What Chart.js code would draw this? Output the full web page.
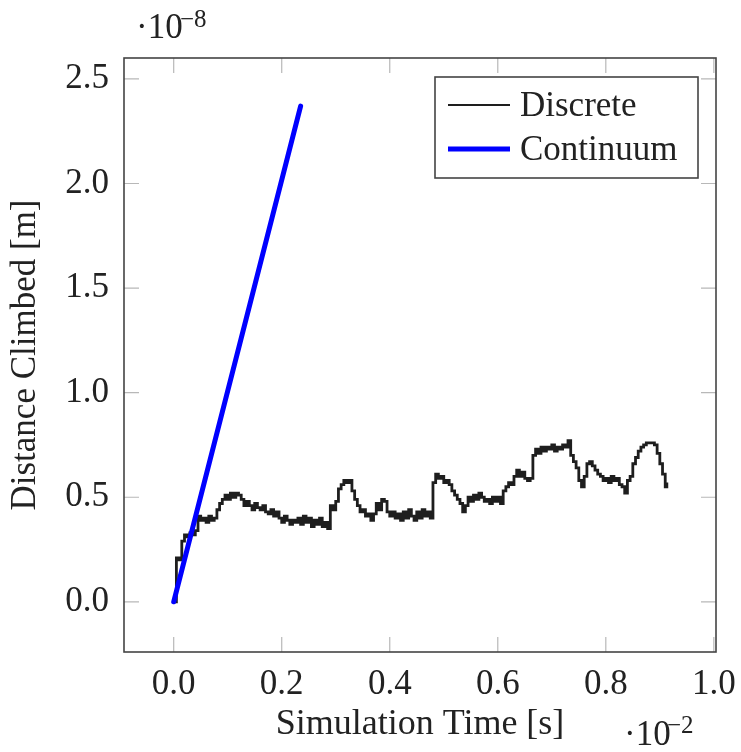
<!DOCTYPE html>
<html>
<head>
    <title>Distance climbed</title>
    <script src="https://cdn.jsdelivr.net/npm/chart.js@4"></script>
</head>

<style>
    body {
        margin: 0;
        background: #ffffff;
    }
</style>

<body>
    <canvas id="myChart" width="741" height="752"></canvas>

    <script>

// données (temps en 1e-2 s, distance en 1e-8 m)
    const discreteTime = [
        0.000,0.005,0.010,0.015,0.020,0.025,0.030,0.035,0.040,0.045,
        0.050,0.055,0.060,0.065,0.070,0.075,0.080,0.085,0.090,0.095,
        0.100,0.105,0.110,0.115,0.120,0.125,0.130,0.135,0.140,0.145,
        0.150,0.155,0.160,0.165,0.170,0.175,0.180,0.185,0.190,0.195,
        0.200,0.205,0.210,0.215,0.220,0.225,0.230,0.235,0.240,0.245,
        0.250,0.255,0.260,0.265,0.270,0.275,0.280,0.285,0.290,0.295,
        0.300,0.305,0.310,0.315,0.320,0.325,0.330,0.335,0.340,0.345,
        0.350,0.355,0.360,0.365,0.370,0.375,0.380,0.385,0.390,0.395,
        0.400,0.405,0.410,0.415,0.420,0.425,0.430,0.435,0.440,0.445,
        0.450,0.455,0.460,0.465,0.470,0.475,0.480,0.485,0.490,0.495,
        0.500,0.505,0.510,0.515,0.520,0.525,0.530,0.535,0.540,0.545,
        0.550,0.555,0.560,0.565,0.570,0.575,0.580,0.585,0.590,0.595,
        0.600,0.605,0.610,0.615,0.620,0.625,0.630,0.635,0.640,0.645,
        0.650,0.655,0.660,0.665,0.670,0.675,0.680,0.685,0.690,0.695,
        0.700,0.705,0.710,0.715,0.720,0.725,0.730,0.735,0.740,0.745,
        0.750,0.755,0.760,0.765,0.770,0.775,0.780,0.785,0.790,0.795,
        0.800,0.805,0.810,0.815,0.820,0.825,0.830,0.835,0.840,0.845,
        0.850,0.855,0.860,0.865,0.870,0.875,0.880,0.885,0.890,0.895,
        0.900,0.905,0.910,0.913
    ];
    const discreteDistance = [
        0.00,0.21,0.20,0.29,0.32,0.31,0.33,0.32,0.34,0.41,
        0.39,0.40,0.38,0.41,0.39,0.40,0.44,0.47,0.49,0.51,
        0.49,0.52,0.50,0.52,0.51,0.49,0.46,0.48,0.46,0.44,
        0.47,0.45,0.44,0.46,0.43,0.42,0.44,0.41,0.43,0.40,
        0.38,0.41,0.39,0.37,0.39,0.38,0.40,0.37,0.41,0.38,
        0.40,0.36,0.39,0.37,0.40,0.36,0.38,0.35,0.46,0.44,
        0.48,0.54,0.56,0.58,0.57,0.58,0.53,0.49,0.46,0.43,
        0.44,0.41,0.42,0.39,0.42,0.47,0.44,0.49,0.48,0.43,
        0.41,0.43,0.40,0.42,0.39,0.43,0.40,0.44,0.41,0.39,
        0.43,0.40,0.44,0.41,0.43,0.40,0.57,0.61,0.59,0.60,
        0.57,0.58,0.56,0.53,0.51,0.49,0.47,0.43,0.46,0.50,
        0.48,0.51,0.49,0.52,0.50,0.48,0.49,0.47,0.50,0.48,
        0.50,0.47,0.53,0.55,0.57,0.56,0.60,0.63,0.60,0.62,
        0.59,0.58,0.59,0.70,0.73,0.71,0.74,0.72,0.74,0.73,
        0.75,0.72,0.74,0.73,0.75,0.74,0.77,0.70,0.67,0.64,
        0.58,0.55,0.60,0.66,0.67,0.65,0.63,0.61,0.60,0.58,
        0.59,0.57,0.60,0.58,0.59,0.56,0.55,0.52,0.58,0.60,
        0.66,0.69,0.72,0.74,0.75,0.76,0.76,0.76,0.75,0.71,
        0.66,0.61,0.55,0.57
    ];
    const continuumTime = [0.0, 0.235];
    const continuumDistance = [0.0, 2.37];

    const xTicks = [0.0, 0.2, 0.4, 0.6, 0.8, 1.0];
    const yTicks = [0.0, 0.5, 1.0, 1.5, 2.0, 2.5];

    const serif = "'Liberation Serif', 'DejaVu Serif', serif";
    const textColor = '#222222';

// cadre, petites graduations, légende et facteurs d'échelle façon pgfplots
    const pgfPlugin = {
        id: 'pgfFrame',
        beforeDatasetsDraw(chart) {
            const ctx = chart.ctx;
            const area = chart.chartArea;
            const xs = chart.scales.x;
            const ys = chart.scales.y;
            const tl = 15;
            ctx.save();
            ctx.strokeStyle = '#b8b8b8';
            ctx.lineWidth = 1.2;
            ctx.beginPath();
            xTicks.forEach(v => {
                const px = xs.getPixelForValue(v);
                ctx.moveTo(px, area.bottom); ctx.lineTo(px, area.bottom - tl);
                ctx.moveTo(px, area.top); ctx.lineTo(px, area.top + tl);
            });
            yTicks.forEach(v => {
                const py = ys.getPixelForValue(v);
                ctx.moveTo(area.left, py); ctx.lineTo(area.left + tl, py);
                ctx.moveTo(area.right, py); ctx.lineTo(area.right - tl, py);
            });
            ctx.stroke();
            ctx.restore();
        },
        afterDatasetsDraw(chart) {
            const ctx = chart.ctx;
            const area = chart.chartArea;
            ctx.save();
            ctx.strokeStyle = '#444444';
            ctx.lineWidth = 1.6;
            ctx.strokeRect(area.left, area.top, area.right - area.left, area.bottom - area.top);

            // légende
            const lx = 435, ly = 77, lw = 263, lh = 101;
            ctx.fillStyle = '#ffffff';
            ctx.fillRect(lx, ly, lw, lh);
            ctx.strokeRect(lx, ly, lw, lh);
            ctx.font = '35px ' + serif;
            ctx.textBaseline = 'alphabetic';
            chart.data.datasets.forEach((ds, i) => {
                const y = 105 + i * 44;
                ctx.strokeStyle = ds.borderColor;
                ctx.lineWidth = i === 0 ? 1.8 : ds.borderWidth;
                ctx.lineCap = 'butt';
                ctx.beginPath();
                ctx.moveTo(448, y); ctx.lineTo(510, y);
                ctx.stroke();
                ctx.fillStyle = textColor;
                ctx.fillText(ds.label, 520, y + 11);
            });

            // facteurs ·10^-8 et ·10^-2
            ctx.fillStyle = textColor;
            ctx.font = '35px ' + serif;
            ctx.fillText('\u00b710', 136, 38);
            ctx.font = '25px ' + serif;
            ctx.fillText('\u22128', 180, 27);
            ctx.font = '35px ' + serif;
            ctx.fillText('\u00b710', 624, 745);
            ctx.font = '25px ' + serif;
            ctx.fillText('\u22122', 667, 733);
            ctx.restore();
        }
    };

    const ctx = document.getElementById('myChart').getContext('2d');
    const myChart = new Chart(ctx, {
        type: 'line',
        data: {
            datasets: [{
                label: 'Discrete',
                data: discreteTime.map((t, i) => ({x: t, y: discreteDistance[i]})),
                borderColor: '#1e1e1e',
                borderWidth: 2.8,
                stepped: true,
                pointRadius: 0,
                fill: false,
                order: 1
            }, {
                label: 'Continuum',
                data: continuumTime.map((t, i) => ({x: t, y: continuumDistance[i]})),
                borderColor: '#0000ff',
                borderWidth: 5,
                borderCapStyle: 'round',
                pointRadius: 0,
                fill: false,
                order: 0
            }]
        },
        options: {
            responsive: false,
            animation: false,
            layout: {
                padding: {top: 58, right: 25, bottom: 0, left: 0}
            },
            plugins: {
                legend: {display: false},
                tooltip: {enabled: false}
            },
            scales: {
                x: {
                    type: 'linear',
                    min: -0.092,
                    max: 1.004,
                    afterBuildTicks: scale => { scale.ticks = xTicks.map(v => ({value: v})); },
                    afterFit: scale => {
                        scale.height = 100;
                        scale.paddingLeft = 0;
                        scale.paddingRight = 0;
                    },
                    grid: {display: false, drawTicks: false, tickLength: 0},
                    border: {display: false},
                    ticks: {
                        padding: 12,
                        maxRotation: 0,
                        color: textColor,
                        font: {family: serif, size: 35},
                        callback: v => v.toFixed(1)
                    },
                    title: {
                        display: true,
                        text: 'Simulation Time [s]',
                        color: textColor,
                        font: {family: serif, size: 36},
                        padding: {top: 0, bottom: 6}
                    }
                },
                y: {
                    type: 'linear',
                    min: -0.24,
                    max: 2.6,
                    afterBuildTicks: scale => { scale.ticks = yTicks.map(v => ({value: v})); },
                    afterFit: scale => {
                        scale.width = 124;
                        scale.paddingTop = 0;
                        scale.paddingBottom = 0;
                    },
                    grid: {display: false, drawTicks: false, tickLength: 0},
                    border: {display: false},
                    ticks: {
                        padding: 15,
                        color: textColor,
                        font: {family: serif, size: 35},
                        callback: v => v.toFixed(1)
                    },
                    title: {
                        display: true,
                        text: 'Distance Climbed [m]',
                        color: textColor,
                        font: {family: serif, size: 35},
                        padding: {top: 5, bottom: 0}
                    }
                }
            }
        },
        plugins: [pgfPlugin]
    });

    </script>
</body>
</html>
